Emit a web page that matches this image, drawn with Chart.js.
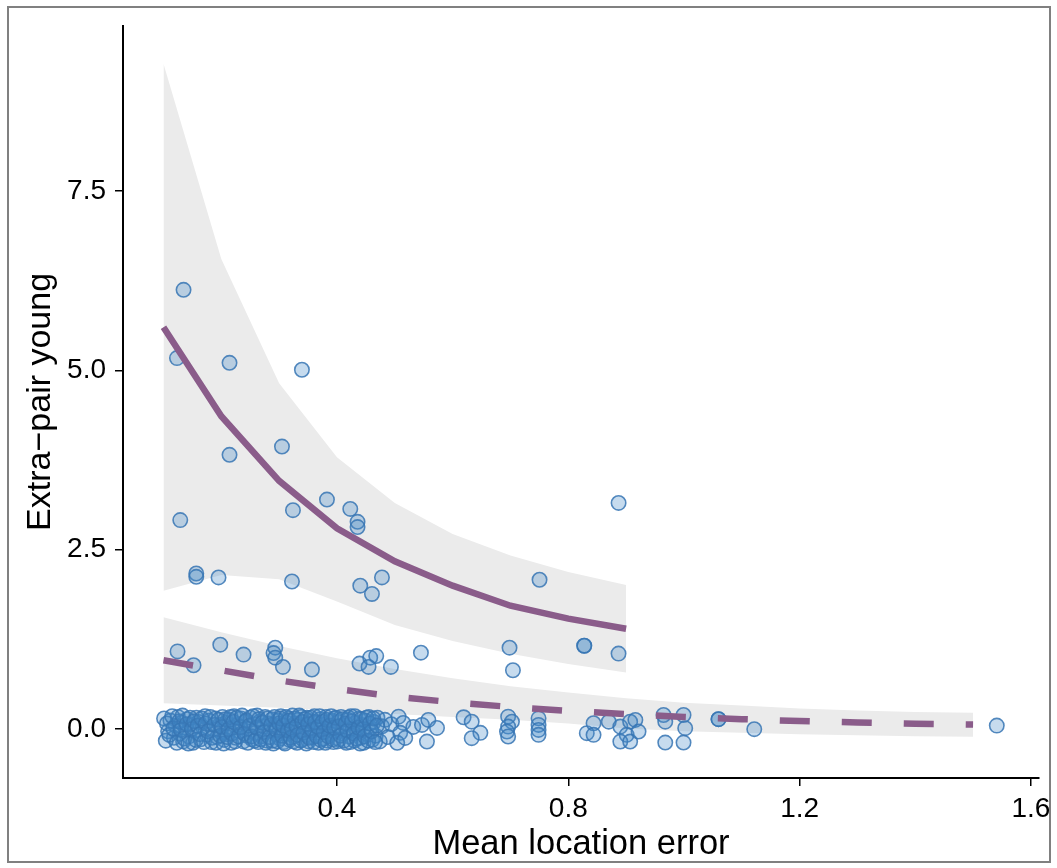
<!DOCTYPE html>
<html>
<head>
<meta charset="utf-8">
<script src="https://cdn.jsdelivr.net/npm/chart.js@4.4.1/dist/chart.umd.min.js"></script>
<style>
  body { margin: 0; background: #fff; }
  #wrap { position: relative; width: 1057px; height: 868px; }
  #frame { position: absolute; left: 7px; top: 6px; width: 1040px; height: 853px;
           border: 2px solid #808080; pointer-events: none; }
</style>
</head>
<body>
<div id="wrap">
  <canvas id="myChart"></canvas>
  <div id="frame"></div>
</div>
<script>
// fitted curves and their confidence bands
var fitX1 = [0.1, 0.2, 0.3, 0.4, 0.5, 0.6, 0.7, 0.8, 0.9];
var fit1 = [5.60, 4.36, 3.46, 2.80, 2.34, 2.00, 1.72, 1.54, 1.40];
var fit1Hi = [9.27, 6.55, 4.82, 3.79, 3.15, 2.72, 2.42, 2.19, 2.01];
var fit1Lo = [1.93, 2.15, 2.09, 1.78, 1.45, 1.23, 1.05, 0.91, 0.79];

var fitX2 = [0.1, 0.2, 0.3, 0.4, 0.5, 0.6, 0.7, 0.8, 0.9, 1.0, 1.1, 1.2, 1.3, 1.4, 1.5];
var fit2 = [0.96, 0.82, 0.68, 0.56, 0.455, 0.375, 0.31, 0.255, 0.21, 0.17, 0.14, 0.113, 0.094, 0.075, 0.065];
var fit2Hi = [1.56, 1.35, 1.16, 0.99, 0.84, 0.71, 0.60, 0.51, 0.43, 0.37, 0.33, 0.29, 0.26, 0.24, 0.23];
var fit2Lo = [0.36, 0.33, 0.30, 0.26, 0.21, 0.17, 0.13, 0.08, 0.01, -0.03, -0.05, -0.07, -0.085, -0.097, -0.107];

// observed birds with extra-pair young (jittered)
var obsHigh = [
  [0.1347, 6.122], [0.1233, 5.170], [0.2142, 5.105], [0.3394, 5.008], [0.2142, 3.823],
  [0.3049, 3.938], [0.129, 2.913], [0.3239, 3.051], [0.3827, 3.199], [0.423, 3.069],
  [0.4356, 2.889], [0.4356, 2.816], [0.887, 3.152], [0.1567, 2.169], [0.1567, 2.123],
  [0.1952, 2.114], [0.3222, 2.058], [0.4403, 1.999], [0.4605, 1.884], [0.4778, 2.114],
  [0.7503, 2.082], [0.1243, 1.084], [0.152, 0.891], [0.1982, 1.177], [0.2385, 1.039],
  [0.2933, 1.136], [0.2903, 1.061], [0.2933, 0.997], [0.3066, 0.867], [0.3567, 0.831],
  [0.439, 0.914], [0.4575, 0.997], [0.4679, 1.019], [0.4546, 0.867], [0.4933, 0.867],
  [0.5452, 1.066], [0.6984, 1.136], [0.7043, 0.821], [0.8276, 1.163], [0.8276, 1.163],
  [0.8869, 1.053]
];

// observed birds with no extra-pair young (jittered round zero)
var obsZero = [
  [0.101, 0.15], [0.108, -0.03], [0.112, 0.12], [0.118, -0.12], [0.121, 0.05], [0.125, 0.17],
  [0.128, -0.06], [0.131, 0.09], [0.134, -0.17], [0.138, 0.02], [0.141, 0.14], [0.144, -0.1],
  [0.147, 0.07], [0.151, -0.19], [0.154, -0.02], [0.157, 0.16], [0.161, 0.1], [0.164, -0.14],
  [0.168, 0.03], [0.172, 0.18], [0.175, -0.08], [0.179, 0.12], [0.183, -0.18], [0.186, 0.0],
  [0.19, 0.15], [0.193, -0.11], [0.197, 0.06], [0.199, -0.04],
  [0.202, 0.17], [0.205, -0.15], [0.208, 0.09], [0.211, -0.07], [0.214, 0.13], [0.217, -0.19],
  [0.219, 0.02], [0.222, 0.18], [0.225, -0.12], [0.228, 0.06], [0.231, -0.03], [0.234, 0.15],
  [0.238, -0.17], [0.241, 0.1], [0.244, -0.09], [0.247, 0.01], [0.25, 0.16], [0.253, -0.14],
  [0.256, 0.07], [0.259, -0.05], [0.262, 0.19], [0.264, -0.18], [0.267, 0.11], [0.27, -0.1],
  [0.273, 0.04], [0.276, 0.17], [0.279, -0.16], [0.282, 0.08], [0.285, -0.02], [0.288, 0.14],
  [0.29, -0.2], [0.293, 0.05], [0.296, -0.08], [0.298, 0.12],
  [0.301, -0.13], [0.303, 0.18], [0.306, 0.0], [0.308, -0.18], [0.311, 0.1], [0.313, -0.06],
  [0.316, 0.15], [0.318, -0.15], [0.321, 0.04], [0.323, 0.19], [0.326, -0.1], [0.328, 0.08],
  [0.331, -0.19], [0.333, 0.13], [0.336, -0.03], [0.338, 0.17], [0.341, -0.14], [0.343, 0.06],
  [0.346, -0.08], [0.348, 0.16], [0.351, -0.17], [0.353, 0.02], [0.356, 0.11], [0.358, -0.11],
  [0.361, 0.18], [0.363, -0.05], [0.366, 0.09], [0.368, -0.19], [0.371, 0.14], [0.373, 0.0],
  [0.376, -0.13], [0.378, 0.07], [0.381, 0.17], [0.383, -0.16], [0.386, 0.03], [0.388, -0.07],
  [0.391, 0.12], [0.394, -0.18], [0.396, 0.15], [0.399, -0.02],
  [0.402, 0.1], [0.404, -0.14], [0.407, 0.17], [0.41, -0.06], [0.413, 0.05], [0.416, -0.19],
  [0.419, 0.13], [0.421, -0.1], [0.424, 0.18], [0.427, 0.0], [0.43, -0.16], [0.432, 0.09],
  [0.435, -0.04], [0.438, 0.15], [0.441, -0.12], [0.443, 0.06], [0.446, -0.19], [0.449, 0.12],
  [0.452, -0.07], [0.455, 0.17], [0.458, 0.02], [0.461, -0.15], [0.464, 0.1], [0.467, -0.09],
  [0.47, 0.16], [0.474, -0.17], [0.478, 0.04], [0.483, 0.13], [0.488, -0.11], [0.494, 0.07],
  [0.104, -0.16], [0.106, 0.08], [0.11, -0.08], [0.115, 0.18], [0.117, 0.01], [0.123, -0.19],
  [0.127, 0.11], [0.13, -0.01], [0.133, 0.19], [0.136, -0.13], [0.14, 0.07], [0.143, -0.2],
  [0.146, 0.16], [0.149, 0.0], [0.153, 0.11], [0.156, -0.15], [0.159, 0.05], [0.163, -0.07],
  [0.166, 0.15], [0.17, -0.18], [0.173, 0.08], [0.177, -0.03], [0.181, 0.17], [0.184, -0.12],
  [0.188, 0.06], [0.191, -0.19], [0.195, 0.13], [0.198, -0.09],
  [0.201, 0.03], [0.204, -0.2], [0.207, 0.14], [0.21, -0.11], [0.213, 0.0], [0.216, 0.17],
  [0.218, -0.06], [0.221, 0.1], [0.224, -0.17], [0.227, 0.16], [0.23, -0.1], [0.233, 0.03],
  [0.236, 0.19], [0.24, -0.06], [0.243, 0.12], [0.246, -0.19], [0.249, 0.05], [0.252, -0.1],
  [0.255, 0.18], [0.258, -0.16], [0.261, 0.02], [0.265, 0.14], [0.268, -0.14], [0.271, 0.09],
  [0.274, -0.04], [0.277, -0.19], [0.28, 0.15], [0.283, -0.11], [0.286, 0.06], [0.289, -0.16],
  [0.292, 0.17], [0.295, -0.01], [0.297, -0.17],
  [0.3, 0.08], [0.302, 0.15], [0.305, -0.09], [0.307, 0.05], [0.31, -0.2], [0.312, 0.17],
  [0.315, -0.02], [0.317, 0.12], [0.32, -0.12], [0.322, 0.0], [0.325, -0.17], [0.327, 0.15],
  [0.33, 0.04], [0.332, -0.08], [0.335, 0.19], [0.337, -0.16], [0.34, 0.1], [0.342, -0.05],
  [0.345, 0.14], [0.347, -0.2], [0.35, 0.07], [0.352, -0.12], [0.355, 0.16], [0.357, -0.01],
  [0.36, -0.18], [0.362, 0.1], [0.365, -0.1], [0.367, 0.03], [0.37, 0.18], [0.372, -0.15],
  [0.375, 0.1], [0.377, -0.04], [0.38, -0.19], [0.382, 0.13], [0.385, -0.1], [0.387, 0.05],
  [0.39, 0.18], [0.393, -0.14], [0.395, 0.02], [0.398, 0.16],
  [0.401, -0.17], [0.403, 0.04], [0.406, -0.09], [0.409, 0.14], [0.412, -0.16], [0.415, 0.08],
  [0.418, -0.02], [0.42, 0.16], [0.423, -0.18], [0.426, 0.11], [0.429, -0.06], [0.431, 0.18],
  [0.434, -0.13], [0.437, 0.02], [0.44, -0.2], [0.442, 0.14], [0.445, 0.0], [0.448, -0.1],
  [0.451, 0.16], [0.454, -0.16], [0.457, 0.08], [0.46, -0.03], [0.463, 0.15], [0.466, -0.18],
  [0.469, 0.05],
  [0.5065, 0.175], [0.5146, 0.087], [0.5094, -0.051], [0.5042, -0.19], [0.518, -0.121],
  [0.532, 0.032], [0.547, 0.06], [0.558, 0.129], [0.573, 0.018], [0.5556, -0.172],
  [0.619, 0.166], [0.633, 0.105], [0.648, -0.051], [0.633, -0.125],
  [0.696, 0.175], [0.7026, 0.105], [0.696, 0.036], [0.694, -0.033], [0.696, -0.102],
  [0.7486, 0.152], [0.7486, 0.06], [0.7486, -0.01], [0.7486, -0.079],
  [0.832, -0.055], [0.8437, 0.083], [0.8437, -0.079], [0.87, 0.105], [0.89, 0.036],
  [0.907, 0.105], [0.916, 0.129], [0.901, -0.079], [0.89, -0.172], [0.907, -0.172], [0.9215, -0.033],
  [0.9647, 0.198], [0.9677, 0.105], [0.9993, 0.198], [1.0022, 0.014], [0.9677, -0.186], [0.9993, -0.186],
  [1.0598, 0.139], [1.0598, 0.139], [1.1216, 0.0], [1.541, 0.05]
];

var xTicks = [0.4, 0.8, 1.2, 1.6];
var yTicks = [0, 2.5, 5.0, 7.5];

function toXY(xs, ys) {
    return xs.map(function (x, i) { return { x: x, y: ys[i] }; });
}

var points = obsZero.concat(obsHigh).map(function (p) { return { x: p[0], y: p[1] }; });
var fontFam = "'Liberation Sans', Arial, Helvetica, sans-serif";
var purple = '#8a5c8a';
var band = '#ebebeb';

var config = {
    type: 'line',
    data: {
        datasets: [
            { data: toXY(fitX1, fit1Hi), fill: '+1', backgroundColor: band, borderWidth: 0, pointRadius: 0, order: 3 },
            { data: toXY(fitX1, fit1Lo), fill: false, borderWidth: 0, pointRadius: 0, order: 3 },
            { data: toXY(fitX2, fit2Hi), fill: '+1', backgroundColor: band, borderWidth: 0, pointRadius: 0, order: 3 },
            { data: toXY(fitX2, fit2Lo), fill: false, borderWidth: 0, pointRadius: 0, order: 3 },
            {
                data: points, showLine: false, order: 2,
                pointRadius: 7.2, pointBorderWidth: 1.6,
                pointBackgroundColor: 'rgba(66, 135, 200, 0.3)',
                pointBorderColor: 'rgba(55, 118, 180, 0.85)'
            },
            { data: toXY(fitX1, fit1), borderColor: purple, borderWidth: 6.5, pointRadius: 0, fill: false, order: 1 },
            {
                data: toXY(fitX2, fit2), borderColor: purple, borderWidth: 6.5, pointRadius: 0, fill: false, order: 1,
                borderDash: [30, 32], borderCapStyle: 'butt'
            }
        ]
    },
    options: {
        responsive: true,
        maintainAspectRatio: false,
        animation: false,
        layout: { padding: { top: 22, right: 18, left: 0, bottom: 0 } },
        plugins: {
            legend: { display: false },
            tooltip: { enabled: false }
        },
        scales: {
            x: {
                type: 'linear',
                min: 0.03,
                max: 1.614,
                afterBuildTicks: function (scale) { scale.ticks = xTicks.map(function (v) { return { value: v }; }); },
                afterFit: function (scale) { scale.height = 90; },
                ticks: {
                    color: '#000', padding: 6,
                    font: { family: fontFam, size: 28 },
                    callback: function (v) { return Number(v).toFixed(1); }
                },
                grid: { drawOnChartArea: false, drawTicks: true, tickLength: 8, color: '#000', lineWidth: 1.5 },
                border: { display: true, color: '#000', width: 2 },
                title: {
                    display: true, text: 'Mean location error', color: '#000',
                    font: { family: fontFam, size: 34.5 }, padding: { top: 0, bottom: 3 }
                }
            },
            y: {
                type: 'linear',
                min: -0.68,
                max: 9.8,
                afterBuildTicks: function (scale) { scale.ticks = yTicks.map(function (v) { return { value: v }; }); },
                afterFit: function (scale) { scale.width = 123; },
                ticks: {
                    color: '#000', padding: 9,
                    font: { family: fontFam, size: 28 },
                    callback: function (v) { return Number(v).toFixed(1); }
                },
                grid: { drawOnChartArea: false, drawTicks: true, tickLength: 8, color: '#000', lineWidth: 1.5 },
                border: { display: true, color: '#000', width: 2 },
                title: {
                    display: true, text: 'Extra\u2212pair young', color: '#000',
                    font: { family: fontFam, size: 34 }, padding: { top: 20.5, bottom: 0 }
                }
            }
        }
    }
};

var myChart = new Chart(document.getElementById('myChart'), config);
</script>
</body>
</html>
